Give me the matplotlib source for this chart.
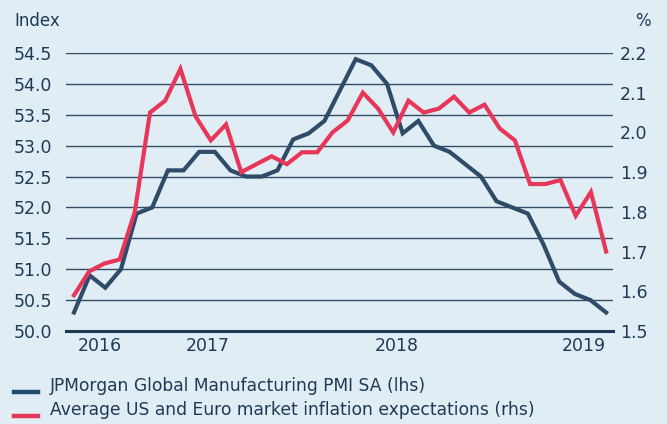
import matplotlib.pyplot as plt
import numpy as np

# JPMorgan Global Manufacturing PMI SA (lhs), monthly
pmi = [50.3, 50.9, 50.7, 51.0, 51.9, 52.0, 52.6, 52.6, 52.9, 52.9,
       52.6, 52.5, 52.5, 52.6, 53.1, 53.2, 53.4, 53.9, 54.4, 54.3,
       54.0, 53.2, 53.4, 53.0, 52.9, 52.7, 52.5, 52.1, 52.0, 51.9,
       51.4, 50.8, 50.6, 50.5, 50.3]

# Average US and Euro market inflation expectations (rhs)
infl = [1.59, 1.65, 1.67, 1.68, 1.80, 2.05, 2.08, 2.16, 2.04, 1.98,
        2.02, 1.90, 1.92, 1.94, 1.92, 1.95, 1.95, 2.00, 2.03, 2.10,
        2.06, 2.00, 2.08, 2.05, 2.06, 2.09, 2.05, 2.07, 2.01, 1.98,
        1.87, 1.87, 1.88, 1.79, 1.85, 1.70]

year_labels = ['2016', '2017', '2018', '2019']
year_pos = [1.66, 8.56, 20.64, 32.6]   # in months from first PMI point

left_ticks = [50.0, 50.5, 51.0, 51.5, 52.0, 52.5, 53.0, 53.5, 54.0, 54.5]
right_ticks = [1.5, 1.6, 1.7, 1.8, 1.9, 2.0, 2.1, 2.2]

bg = '#E1EDF5'
navy = '#1E3A54'
blue = '#2E4B68'
red = '#E6375A'

W, H = 667, 424
fig = plt.figure(figsize=(W / 100, H / 100), dpi=100, facecolor=bg)
ax = fig.add_axes([66 / W, (H - 331) / H, (613 - 66) / W, (331 - 53) / H])
ax.set_facecolor(bg)
ax2 = ax.twinx()

x_pmi = np.arange(len(pmi))
# inflation series has one more point across the same span
x_infl = np.linspace(0, len(pmi) - 1, len(infl))

for v in left_ticks[1:]:
    ax.axhline(v, color=navy, lw=1.0, alpha=0.9, zorder=1)

ax.plot(x_pmi, pmi, color=blue, lw=3.0, solid_joinstyle='miter', zorder=3)
ax2.plot(x_infl, infl, color=red, lw=3.0, solid_joinstyle='miter', zorder=3)

ax.set_xlim(-0.51, 34.44)
ax.set_ylim(50.0, 54.5)
ax2.set_ylim(1.5, 2.2)

ax.set_yticks(left_ticks)
ax.set_yticklabels([f'{v:.1f}' for v in left_ticks])
ax2.set_yticks(right_ticks)
ax2.set_yticklabels([f'{v:.1f}' for v in right_ticks])
ax.set_xticks(year_pos)
ax.set_xticklabels(year_labels)

for a in (ax, ax2):
    for s in ['top', 'left', 'right', 'bottom']:
        a.spines[s].set_visible(False)
    a.tick_params(length=0, labelsize=12.5, colors=navy)
ax.spines['bottom'].set_visible(True)
ax.spines['bottom'].set_color(navy)
ax.spines['bottom'].set_linewidth(2.2)
ax.tick_params(axis='y', pad=10)
ax2.tick_params(axis='y', pad=5)
ax.tick_params(axis='x', pad=4)

fig.text(14 / W, 1 - 21 / H, 'Index', fontsize=12, color=navy, va='center', ha='left')
fig.text(651 / W, 1 - 21 / H, '%', fontsize=12, color=navy, va='center', ha='right')

# legend
leg_items = [('JPMorgan Global Manufacturing PMI SA (lhs)', '#1F4D6E'),
             ('Average US and Euro market inflation expectations (rhs)', red)]
for i, (label, c) in enumerate(leg_items):
    yy = 1 - (386 + 24 * i) / H
    fig.add_artist(plt.Line2D([14 / W, 38 / W], [yy - 6 / H, yy - 6 / H],
                              color=c, lw=3.2, transform=fig.transFigure))
    fig.text(50 / W, yy, label, fontsize=12.3, color=navy, va='center', ha='left')

fig.savefig('out.png', dpi=100, facecolor=bg)
